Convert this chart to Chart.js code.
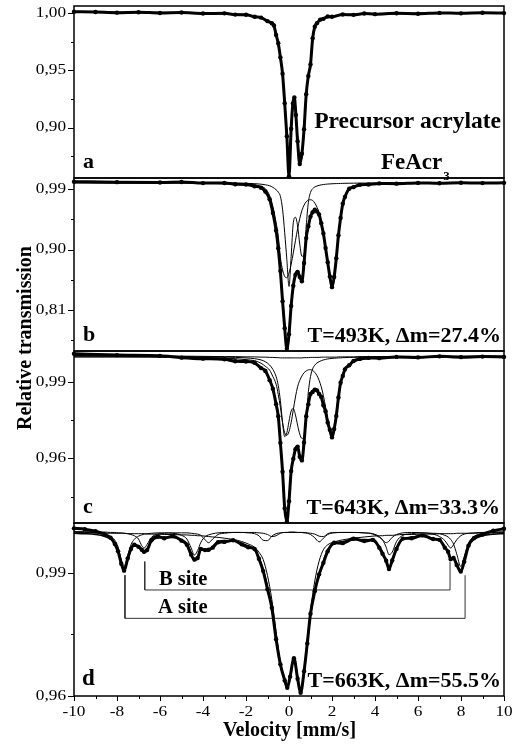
<!DOCTYPE html>
<html>
<head>
<meta charset="utf-8">
<title>Mossbauer spectra</title>
<script src="https://cdn.jsdelivr.net/npm/chart.js@4.4.0/dist/chart.umd.min.js"></script>
<style>
  html, body { margin: 0; padding: 0; background: #fff; }
  #wrap { position: relative; width: 516px; height: 744px; overflow: hidden; background: #fff; }
  #wrap canvas { position: absolute; left: 0; }
  #ytitle {
    position: absolute; left: -75px; top: 326px; width: 200px; height: 24px;
    line-height: 24px; text-align: center; white-space: nowrap;
    font: bold 20px "Liberation Serif", "Times New Roman", serif;
    transform: rotate(-90deg);
  }
</style>
</head>
<body>
<div id="wrap">
  <canvas id="pa" width="516" height="190" style="top:0px"></canvas>
  <canvas id="pb" width="516" height="197" style="top:166px"></canvas>
  <canvas id="pc" width="516" height="196" style="top:339px"></canvas>
  <canvas id="pd" width="516" height="233" style="top:511px"></canvas>
  <div id="ytitle">Relative transmission</div>
</div>
<script>
// ---- panel a : precursor FeAcr3 ----
const velA = [-10, -9, -8, -7, -6, -5, -4, -3, -2.5, -2, -1.6, -1.3, -1.0, -0.8, -0.7, -0.6, -0.5, -0.4, -0.3, -0.2, -0.1,
  0, 0.1, 0.18, 0.25, 0.32, 0.4, 0.5, 0.6, 0.7, 0.8, 0.9, 1.0, 1.1, 1.2, 1.3, 1.45, 1.6, 1.8, 2.0, 2.5, 3, 3.5, 4, 5, 6, 7, 8, 9, 10];
const fitA = [1.0006, 1.0005, 1.0004, 1.0003, 1.0002, 1.0000, 0.9998, 0.9993, 0.9989, 0.9982, 0.9970, 0.9956, 0.9932, 0.9905, 0.9882, 0.9815, 0.9730, 0.9620, 0.9460, 0.9220, 0.8930,
  0.8585, 0.8975, 0.9195, 0.9250, 0.9125, 0.8885, 0.8690, 0.8760, 0.8970, 0.9280, 0.9445, 0.9560, 0.9770, 0.9875, 0.9913, 0.9937, 0.9952, 0.9963, 0.9971, 0.9982, 0.9987, 0.9990, 0.9992, 0.9994, 0.9996, 0.9997, 0.9998, 0.9998, 0.9999];
const dataA = [1.0010, 1.0008, 1.0002, 1.0006, 0.9999, 1.0003, 0.9995, 0.9996, 0.9985, 0.9984, 0.9966, 0.9959, 0.9928, 0.9910, 0.9890, 0.9808, 0.9735, 0.9612, 0.9470, 0.9212, 0.8925,
  0.8575, 0.8990, 0.9210, 0.9262, 0.9110, 0.8880, 0.8682, 0.8772, 0.8985, 0.9290, 0.9450, 0.9550, 0.9778, 0.9880, 0.9909, 0.9941, 0.9948, 0.9968, 0.9966, 0.9986, 0.9983, 0.9994, 0.9989, 0.9997, 0.9993, 1.0000, 0.9996, 1.0001, 0.9998];

// ---- panels b and c share one velocity grid ----
const velBC = [-10, -8, -6, -5, -4, -3, -2.5, -2, -1.6, -1.3, -1.1, -0.9, -0.75, -0.6, -0.5, -0.4, -0.3, -0.2, -0.1,
  0, 0.1, 0.2, 0.3, 0.4, 0.5, 0.6, 0.7, 0.8, 0.9, 1.0, 1.1, 1.2, 1.3, 1.4, 1.5, 1.6, 1.7, 1.8, 1.9, 2.0,
  2.1, 2.2, 2.3, 2.4, 2.5, 2.6, 2.8, 3.0, 3.3, 3.7, 4.2, 5, 6, 7, 8, 9, 10];

// panel b : T=493K
const fitB = [0.9996, 0.9995, 0.9994, 0.9993, 0.9990, 0.9983, 0.9977, 0.9965, 0.9948, 0.9915, 0.9870, 0.9755, 0.9560, 0.9290, 0.9030, 0.8670, 0.8240, 0.7850, 0.7530,
  0.7720, 0.8180, 0.8450, 0.8610, 0.8660, 0.8600, 0.8540, 0.8840, 0.9150, 0.9350, 0.9480, 0.9560, 0.9585, 0.9570, 0.9515, 0.9400, 0.9230, 0.9030, 0.8800, 0.8610, 0.8450,
  0.8580, 0.8880, 0.9200, 0.9480, 0.9670, 0.9790, 0.9900, 0.9935, 0.9958, 0.9970, 0.9978, 0.9984, 0.9987, 0.9988, 0.9989, 0.9990, 0.9990];
const doubletB1 = [0.9994, 0.9994, 0.9993, 0.9993, 0.9992, 0.9990, 0.9988, 0.9985, 0.9980, 0.9972, 0.9963, 0.9948, 0.9925, 0.9890, 0.9855, 0.9790, 0.9600, 0.9250, 0.8850,
  0.8450, 0.8900, 0.9400, 0.9480, 0.9350, 0.9080, 0.8900, 0.8920, 0.9350, 0.9700, 0.9850, 0.9905, 0.9930, 0.9945, 0.9955, 0.9962, 0.9967, 0.9971, 0.9974, 0.9976, 0.9978,
  0.9980, 0.9981, 0.9982, 0.9983, 0.9984, 0.9985, 0.9986, 0.9987, 0.9988, 0.9989, 0.9990, 0.9992, 0.9993, 0.9993, 0.9994, 0.9994, 0.9994];
const doubletB2 = [0.9995, 0.9995, 0.9995, 0.9994, 0.9992, 0.9987, 0.9983, 0.9975, 0.9963, 0.9940, 0.9905, 0.9800, 0.9640, 0.9400, 0.9200, 0.8880, 0.8700, 0.8600, 0.8580,
  0.8650, 0.8780, 0.8950, 0.9130, 0.9310, 0.9460, 0.9580, 0.9660, 0.9710, 0.9735, 0.9740, 0.9730, 0.9690, 0.9630, 0.9545, 0.9420, 0.9250, 0.9045, 0.8815, 0.8620, 0.8460,
  0.8590, 0.8890, 0.9210, 0.9490, 0.9680, 0.9795, 0.9900, 0.9935, 0.9958, 0.9970, 0.9978, 0.9984, 0.9987, 0.9988, 0.9989, 0.9990, 0.9990];
const dataB = [1.0010, 1.0002, 0.9998, 1.0004, 0.9988, 0.9990, 0.9972, 0.9968, 0.9940, 0.9920, 0.9862, 0.9748, 0.9545, 0.9282, 0.9018, 0.8680, 0.8230, 0.7830, 0.7525,
  0.7740, 0.8160, 0.8460, 0.8625, 0.8668, 0.8592, 0.8528, 0.8800, 0.9170, 0.9345, 0.9490, 0.9555, 0.9592, 0.9565, 0.9520, 0.9390, 0.9238, 0.9022, 0.8810, 0.8600, 0.8440,
  0.8592, 0.8870, 0.9212, 0.9470, 0.9680, 0.9782, 0.9905, 0.9928, 0.9962, 0.9968, 0.9984, 0.9980, 0.9991, 0.9985, 0.9993, 0.9988, 0.9992];

// panel c : T=643K
const fitC = [1.0004, 1.0002, 0.9999, 0.9996, 0.9992, 0.9986, 0.9983, 0.9978, 0.9972, 0.9956, 0.9940, 0.9910, 0.9870, 0.9815, 0.9762, 0.9665, 0.9550, 0.9400, 0.9360,
  0.9440, 0.9545, 0.9602, 0.9632, 0.9642, 0.9612, 0.9598, 0.9670, 0.9758, 0.9815, 0.9850, 0.9863, 0.9867, 0.9865, 0.9855, 0.9838, 0.9812, 0.9780, 0.9745, 0.9708, 0.9686,
  0.9710, 0.9770, 0.9840, 0.9893, 0.9925, 0.9946, 0.9967, 0.9978, 0.9987, 0.9991, 0.9994, 0.9996, 0.9997, 0.9997, 0.9997, 0.9997, 0.9997];
const doubletC1 = [0.9997, 0.9997, 0.9997, 0.9997, 0.9997, 0.9996, 0.9995, 0.9993, 0.9990, 0.9985, 0.9978, 0.9965, 0.9948, 0.9920, 0.9885, 0.9825, 0.9740, 0.9685, 0.9700,
  0.9745, 0.9785, 0.9795, 0.9770, 0.9730, 0.9695, 0.9678, 0.9685, 0.9760, 0.9860, 0.9920, 0.9950, 0.9965, 0.9973, 0.9978, 0.9982, 0.9985, 0.9987, 0.9989, 0.9990, 0.9991,
  0.9992, 0.9992, 0.9993, 0.9993, 0.9994, 0.9994, 0.9995, 0.9995, 0.9996, 0.9996, 0.9996, 0.9997, 0.9997, 0.9997, 0.9997, 0.9997, 0.9997];
const doubletC2 = [0.9997, 0.9997, 0.9996, 0.9996, 0.9995, 0.9992, 0.9990, 0.9986, 0.9982, 0.9972, 0.9960, 0.9945, 0.9920, 0.9890, 0.9850, 0.9800, 0.9740, 0.9700, 0.9690,
  0.9705, 0.9740, 0.9790, 0.9840, 0.9880, 0.9905, 0.9922, 0.9935, 0.9942, 0.9946, 0.9947, 0.9944, 0.9936, 0.9924, 0.9905, 0.9880, 0.9845, 0.9800, 0.9755, 0.9715, 0.9692,
  0.9715, 0.9775, 0.9845, 0.9898, 0.9930, 0.9950, 0.9970, 0.9980, 0.9988, 0.9992, 0.9994, 0.9996, 0.9997, 0.9997, 0.9997, 0.9997, 0.9997];
const broadC = [1.0001, 1.0001, 1.0000, 1.0000, 0.9999, 0.9998, 0.9998, 0.9997, 0.9997, 0.9996, 0.9996, 0.9995, 0.9995, 0.9994, 0.9994, 0.9993, 0.9993, 0.9993, 0.9993,
  0.9993, 0.9993, 0.9993, 0.9993, 0.9993, 0.9993, 0.9993, 0.9994, 0.9994, 0.9994, 0.9995, 0.9995, 0.9995, 0.9995, 0.9995, 0.9996, 0.9996, 0.9996, 0.9996, 0.9996, 0.9996,
  0.9996, 0.9996, 0.9997, 0.9997, 0.9997, 0.9997, 0.9997, 0.9997, 0.9998, 0.9998, 0.9998, 0.9999, 0.9999, 0.9999, 1.0000, 1.0000, 1.0000];
const dataC = [1.0009, 1.0004, 1.0001, 0.9994, 0.9990, 0.9988, 0.9980, 0.9979, 0.9974, 0.9953, 0.9942, 0.9906, 0.9872, 0.9812, 0.9765, 0.9660, 0.9548, 0.9405, 0.9352,
  0.9432, 0.9550, 0.9598, 0.9636, 0.9646, 0.9606, 0.9592, 0.9662, 0.9765, 0.9812, 0.9852, 0.9860, 0.9869, 0.9866, 0.9852, 0.9840, 0.9808, 0.9784, 0.9740, 0.9712, 0.9682,
  0.9715, 0.9766, 0.9838, 0.9896, 0.9922, 0.9948, 0.9964, 0.9981, 0.9989, 0.9993, 0.9992, 0.9997, 0.9995, 0.9999, 0.9996, 0.9998, 0.9997];

// ---- panel d : T=663K, two sextets + central doublet ----
const velD = [-10, -9.5, -9, -8.6, -8.3, -8.1, -7.95, -7.8, -7.67, -7.5, -7.35, -7.2, -7.0, -6.85, -6.74, -6.6, -6.4, -6.1, -5.8, -5.4,
  -5.0, -4.75, -4.55, -4.4, -4.25, -4.1, -3.9, -3.74, -3.55, -3.3, -3.0, -2.6, -2.2, -1.9, -1.6, -1.4, -1.2, -1.0, -0.8, -0.6,
  -0.4, -0.2, -0.08, 0.05, 0.23, 0.4, 0.54, 0.7, 0.85, 1.0, 1.2, 1.4, 1.6, 1.8, 2.1, 2.5, 3.0, 3.5, 3.9, 4.2,
  4.35, 4.52, 4.65, 4.8, 5.0, 5.3, 5.7, 6.2, 6.7, 7.0, 7.25, 7.4, 7.52, 7.65, 7.8, 7.99, 8.15, 8.35, 8.6, 9.0, 9.5, 10];
const sextetA = [0.9999, 0.9998, 0.9997, 0.9994, 0.9988, 0.9979, 0.9963, 0.9932, 0.9915, 0.9942, 0.9968, 0.9981, 0.9989, 0.9992, 0.9994, 0.9995, 0.9996, 0.9997, 0.9997, 0.9996,
  0.9991, 0.9982, 0.9960, 0.9943, 0.9954, 0.9974, 0.9988, 0.9992, 0.9995, 0.9997, 0.9998, 0.9998, 0.9998, 0.9997, 0.9995, 0.9990, 0.9979, 0.9978, 0.9989, 0.9995,
  0.9997, 0.9998, 0.9998, 0.9998, 0.9998, 0.9998, 0.9998, 0.9997, 0.9996, 0.9993, 0.9985, 0.9975, 0.9984, 0.9993, 0.9997, 0.9998, 0.9998, 0.9997, 0.9995, 0.9988,
  0.9980, 0.9962, 0.9944, 0.9950, 0.9976, 0.9991, 0.9995, 0.9997, 0.9996, 0.9995, 0.9991, 0.9987, 0.9981, 0.9970, 0.9946, 0.9915, 0.9940, 0.9972, 0.9988, 0.9995, 0.9998, 0.9999];
const sextetB = [1.0000, 1.0000, 0.9999, 0.9999, 0.9998, 0.9998, 0.9997, 0.9997, 0.9996, 0.9995, 0.9993, 0.9990, 0.9982, 0.9966, 0.9960, 0.9969, 0.9986, 0.9994, 0.9996, 0.9997,
  0.9997, 0.9997, 0.9996, 0.9995, 0.9994, 0.9991, 0.9980, 0.9973, 0.9982, 0.9993, 0.9996, 0.9998, 0.9998, 0.9998, 0.9998, 0.9997, 0.9996, 0.9993, 0.9988, 0.9990,
  0.9996, 0.9998, 0.9998, 0.9999, 0.9999, 0.9998, 0.9998, 0.9998, 0.9997, 0.9996, 0.9994, 0.9989, 0.9988, 0.9995, 0.9998, 0.9998, 0.9998, 0.9997, 0.9994, 0.9986,
  0.9980, 0.9973, 0.9977, 0.9986, 0.9993, 0.9997, 0.9998, 0.9997, 0.9994, 0.9988, 0.9978, 0.9967, 0.9960, 0.9968, 0.9980, 0.9990, 0.9994, 0.9996, 0.9997, 0.9998, 0.9999, 0.9999];
const doubletD = [0.9997, 0.9997, 0.9997, 0.9996, 0.9996, 0.9996, 0.9996, 0.9996, 0.9996, 0.9995, 0.9995, 0.9995, 0.9995, 0.9995, 0.9995, 0.9994, 0.9994, 0.9994, 0.9993, 0.9993,
  0.9992, 0.9992, 0.9991, 0.9991, 0.9990, 0.9990, 0.9989, 0.9988, 0.9987, 0.9986, 0.9984, 0.9981, 0.9976, 0.9970, 0.9962, 0.9950, 0.9932, 0.9893, 0.9835, 0.9757,
  0.9682, 0.9645, 0.9627, 0.9646, 0.9692, 0.9650, 0.9615, 0.9662, 0.9738, 0.9808, 0.9880, 0.9928, 0.9956, 0.9968, 0.9975, 0.9980, 0.9984, 0.9987, 0.9989, 0.9990,
  0.9990, 0.9991, 0.9991, 0.9991, 0.9992, 0.9993, 0.9993, 0.9994, 0.9994, 0.9995, 0.9995, 0.9995, 0.9995, 0.9995, 0.9996, 0.9996, 0.9996, 0.9996, 0.9996, 0.9997, 0.9997, 0.9997];
const fitD = [0.9996, 0.9995, 0.9993, 0.9989, 0.9982, 0.9973, 0.9956, 0.9925, 0.9907, 0.9932, 0.9956, 0.9966, 0.9966, 0.9953, 0.9949, 0.9958, 0.9976, 0.9985, 0.9986, 0.9986,
  0.9980, 0.9971, 0.9947, 0.9929, 0.9938, 0.9955, 0.9957, 0.9953, 0.9964, 0.9976, 0.9978, 0.9977, 0.9972, 0.9965, 0.9955, 0.9937, 0.9907, 0.9864, 0.9812, 0.9742,
  0.9675, 0.9641, 0.9623, 0.9643, 0.9689, 0.9646, 0.9611, 0.9657, 0.9731, 0.9797, 0.9859, 0.9892, 0.9928, 0.9956, 0.9970, 0.9976, 0.9980, 0.9981, 0.9978, 0.9964,
  0.9950, 0.9926, 0.9912, 0.9927, 0.9961, 0.9981, 0.9986, 0.9988, 0.9984, 0.9978, 0.9964, 0.9949, 0.9936, 0.9933, 0.9922, 0.9901, 0.9930, 0.9964, 0.9981, 0.9990, 0.9994, 0.9995];
const dataD = [1.0008, 1.0006, 1.0001, 0.9994, 0.9985, 0.9970, 0.9952, 0.9922, 0.9905, 0.9935, 0.9958, 0.9968, 0.9963, 0.9956, 0.9951, 0.9955, 0.9979, 0.9988, 0.9984, 0.9989,
  0.9978, 0.9968, 0.9944, 0.9932, 0.9936, 0.9958, 0.9955, 0.9956, 0.9961, 0.9974, 0.9975, 0.9979, 0.9969, 0.9962, 0.9958, 0.9934, 0.9904, 0.9860, 0.9815, 0.9738,
  0.9677, 0.9638, 0.9620, 0.9647, 0.9692, 0.9642, 0.9608, 0.9660, 0.9728, 0.9800, 0.9855, 0.9896, 0.9924, 0.9952, 0.9973, 0.9972, 0.9983, 0.9977, 0.9980, 0.9961,
  0.9946, 0.9929, 0.9909, 0.9930, 0.9958, 0.9983, 0.9984, 0.9991, 0.9982, 0.9980, 0.9961, 0.9951, 0.9933, 0.9936, 0.9919, 0.9903, 0.9927, 0.9966, 0.9984, 0.9993, 1.0002, 1.0007];

// site brackets under the outer sextet lines
const siteBx = [-6.71, -6.71, 7.49, 7.49];
const siteBy = [0.9927, 0.9858, 0.9858, 0.9927];
const siteAx = [-7.63, -7.63, 8.19, 8.19];
const siteAy = [0.9894, 0.9789, 0.9789, 0.9894];

// axis ticks
const xMajor = [-10, -8, -6, -4, -2, 0, 2, 4, 6, 8, 10];
const xMinor = [-9, -7, -5, -3, -1, 1, 3, 5, 7, 9];
const yMajorA = [0.90, 0.95, 1.00], yMinorA = [0.875, 0.925, 0.975];
const yMajorB = [0.81, 0.90, 0.99], yMinorB = [0.765, 0.855, 0.945];
const yMajorC = [0.96, 0.99], yMinorC = [0.945, 0.975];
const yMajorD = [0.96, 0.99], yMinorD = [0.975];

const SERIF = '"Liberation Serif", "Times New Roman", serif';

function pts(xs, ys) {
  return xs.map((x, i) => ({ x: x, y: ys[i] }));
}
function curve(xs, ys, w) {
  return { data: pts(xs, ys), showLine: true, pointRadius: 0, borderColor: '#000', borderWidth: w,
    cubicInterpolationMode: 'monotone', clip: false };
}
function dots(xs, ys) {
  return { data: pts(xs, ys), showLine: true, borderColor: '#000', borderWidth: 3,
    pointRadius: 2.2, pointBackgroundColor: '#000', pointBorderWidth: 0,
    cubicInterpolationMode: 'monotone', clip: false };
}
function bracket(xs, ys) {
  return { data: pts(xs, ys), showLine: true, pointRadius: 0, borderColor: '#333', borderWidth: 1, tension: 0, clip: false };
}

function boldText(ctx, s, x, y, size, align) {
  ctx.font = 'bold ' + size + 'px ' + SERIF;
  ctx.textAlign = align || 'left';
  ctx.textBaseline = 'alphabetic';
  ctx.fillText(s, x, y);
}

// tick labels are drawn a little wider than the plain face
function wideText(ctx, s, x, y, align, baseline) {
  ctx.save();
  ctx.translate(x, y);
  ctx.scale(1.15, 1);
  ctx.textAlign = align;
  ctx.textBaseline = baseline;
  ctx.fillText(s, 0, 0);
  ctx.restore();
}

function panel(id, top, padTop, padBottom, yMin, yMax, major, minor, datasets, extra) {
  const frame = {
    id: 'frame',
    afterDatasetsDraw(chart) {
      const ctx = chart.ctx, a = chart.chartArea, ys = chart.scales.y, xs = chart.scales.x;
      ctx.save();
      ctx.strokeStyle = '#000';
      ctx.lineWidth = 1.5;
      ctx.strokeRect(a.left, a.top, a.right - a.left, a.bottom - a.top);
      ctx.lineWidth = 1;
      ctx.beginPath();
      major.forEach(v => { const p = Math.round(ys.getPixelForValue(v)) + 0.5; ctx.moveTo(a.left - 6, p); ctx.lineTo(a.left, p); });
      minor.forEach(v => { const p = Math.round(ys.getPixelForValue(v)) + 0.5; ctx.moveTo(a.left - 3, p); ctx.lineTo(a.left, p); });
      ctx.stroke();
      ctx.fillStyle = '#000';
      ctx.font = '15px ' + SERIF;
      major.forEach(v => wideText(ctx, v.toFixed(2).replace('.', ','), a.left - 8, ys.getPixelForValue(v), 'right', 'middle'));
      if (extra) extra(ctx, a, xs, ys, top);
      ctx.restore();
    }
  };
  return new Chart(document.getElementById(id), {
    type: 'scatter',
    data: { datasets: datasets },
    options: {
      responsive: false, animation: false, events: [], devicePixelRatio: 1,
      layout: { padding: { left: 74, right: 12, top: padTop, bottom: padBottom } },
      plugins: { legend: { display: false }, tooltip: { enabled: false } },
      scales: {
        x: { type: 'linear', min: -10, max: 10, display: false },
        y: { type: 'linear', min: yMin, max: yMax, display: false }
      }
    },
    plugins: [frame]
  });
}

panel('pa', 0, 6, 12, 0.856, 1.006, yMajorA, yMinorA,
  [curve(velA, fitA, 1.6), dots(velA, dataA)],
  (ctx, a, xs, ys, top) => {
    boldText(ctx, 'a', 83, 168 - top, 22);
    boldText(ctx, 'Precursor acrylate', 501, 128 - top, 23.5, 'right');
    boldText(ctx, 'FeAcr', 381, 169 - top, 23);
    const w = ctx.measureText('FeAcr').width;
    boldText(ctx, '3', 381 + w + 1, 180 - top, 13);
  });

panel('pb', 166, 12, 12, 0.749, 1.0064, yMajorB, yMinorB,
  [curve(velBC, fitB, 1.6), curve(velBC, doubletB1, 1), curve(velBC, doubletB2, 1), dots(velBC, dataB)],
  (ctx, a, xs, ys, top) => {
    boldText(ctx, 'b', 83, 341 - top, 22);
    boldText(ctx, 'T=493K, \u0394m=27.4%', 501, 342 - top, 22, 'right');
  });

panel('pc', 339, 12, 12, 0.9347, 1.0020, yMajorC, yMinorC,
  [curve(velBC, fitC, 1.6), curve(velBC, doubletC1, 1), curve(velBC, doubletC2, 1), curve(velBC, broadC, 1), dots(velBC, dataC)],
  (ctx, a, xs, ys, top) => {
    boldText(ctx, 'c', 83, 513 - top, 22);
    boldText(ctx, 'T=643K, \u0394m=33.3%', 500, 514 - top, 22, 'right');
  });

panel('pd', 511, 12, 48, 0.96, 1.0021, yMajorD, yMinorD,
  [curve(velD, fitD, 1.6), curve(velD, sextetA, 1), curve(velD, sextetB, 1), curve(velD, doubletD, 1),
   dots(velD, dataD), bracket(siteBx, siteBy), bracket(siteAx, siteAy)],
  (ctx, a, xs, ys, top) => {
    // velocity axis
    ctx.beginPath();
    xMajor.forEach(v => { const p = Math.round(xs.getPixelForValue(v)) + 0.5; ctx.moveTo(p, a.bottom); ctx.lineTo(p, a.bottom + 5); });
    xMinor.forEach(v => { const p = Math.round(xs.getPixelForValue(v)) + 0.5; ctx.moveTo(p, a.bottom); ctx.lineTo(p, a.bottom + 3); });
    ctx.stroke();
    ctx.font = '15px ' + SERIF;
    xMajor.forEach(v => wideText(ctx, String(v), xs.getPixelForValue(v), 716 - top, 'center', 'alphabetic'));
    boldText(ctx, 'Velocity [mm/s]', 289.5, 736 - top, 20, 'center');
    boldText(ctx, 'd', 82, 685 - top, 23);
    boldText(ctx, 'T=663K, \u0394m=55.5%', 501, 687 - top, 22, 'right');
    boldText(ctx, 'B site', 159, 585 - top, 20.5);
    boldText(ctx, 'A site', 158, 613 - top, 20.5);
  });
</script>
</body>
</html>
